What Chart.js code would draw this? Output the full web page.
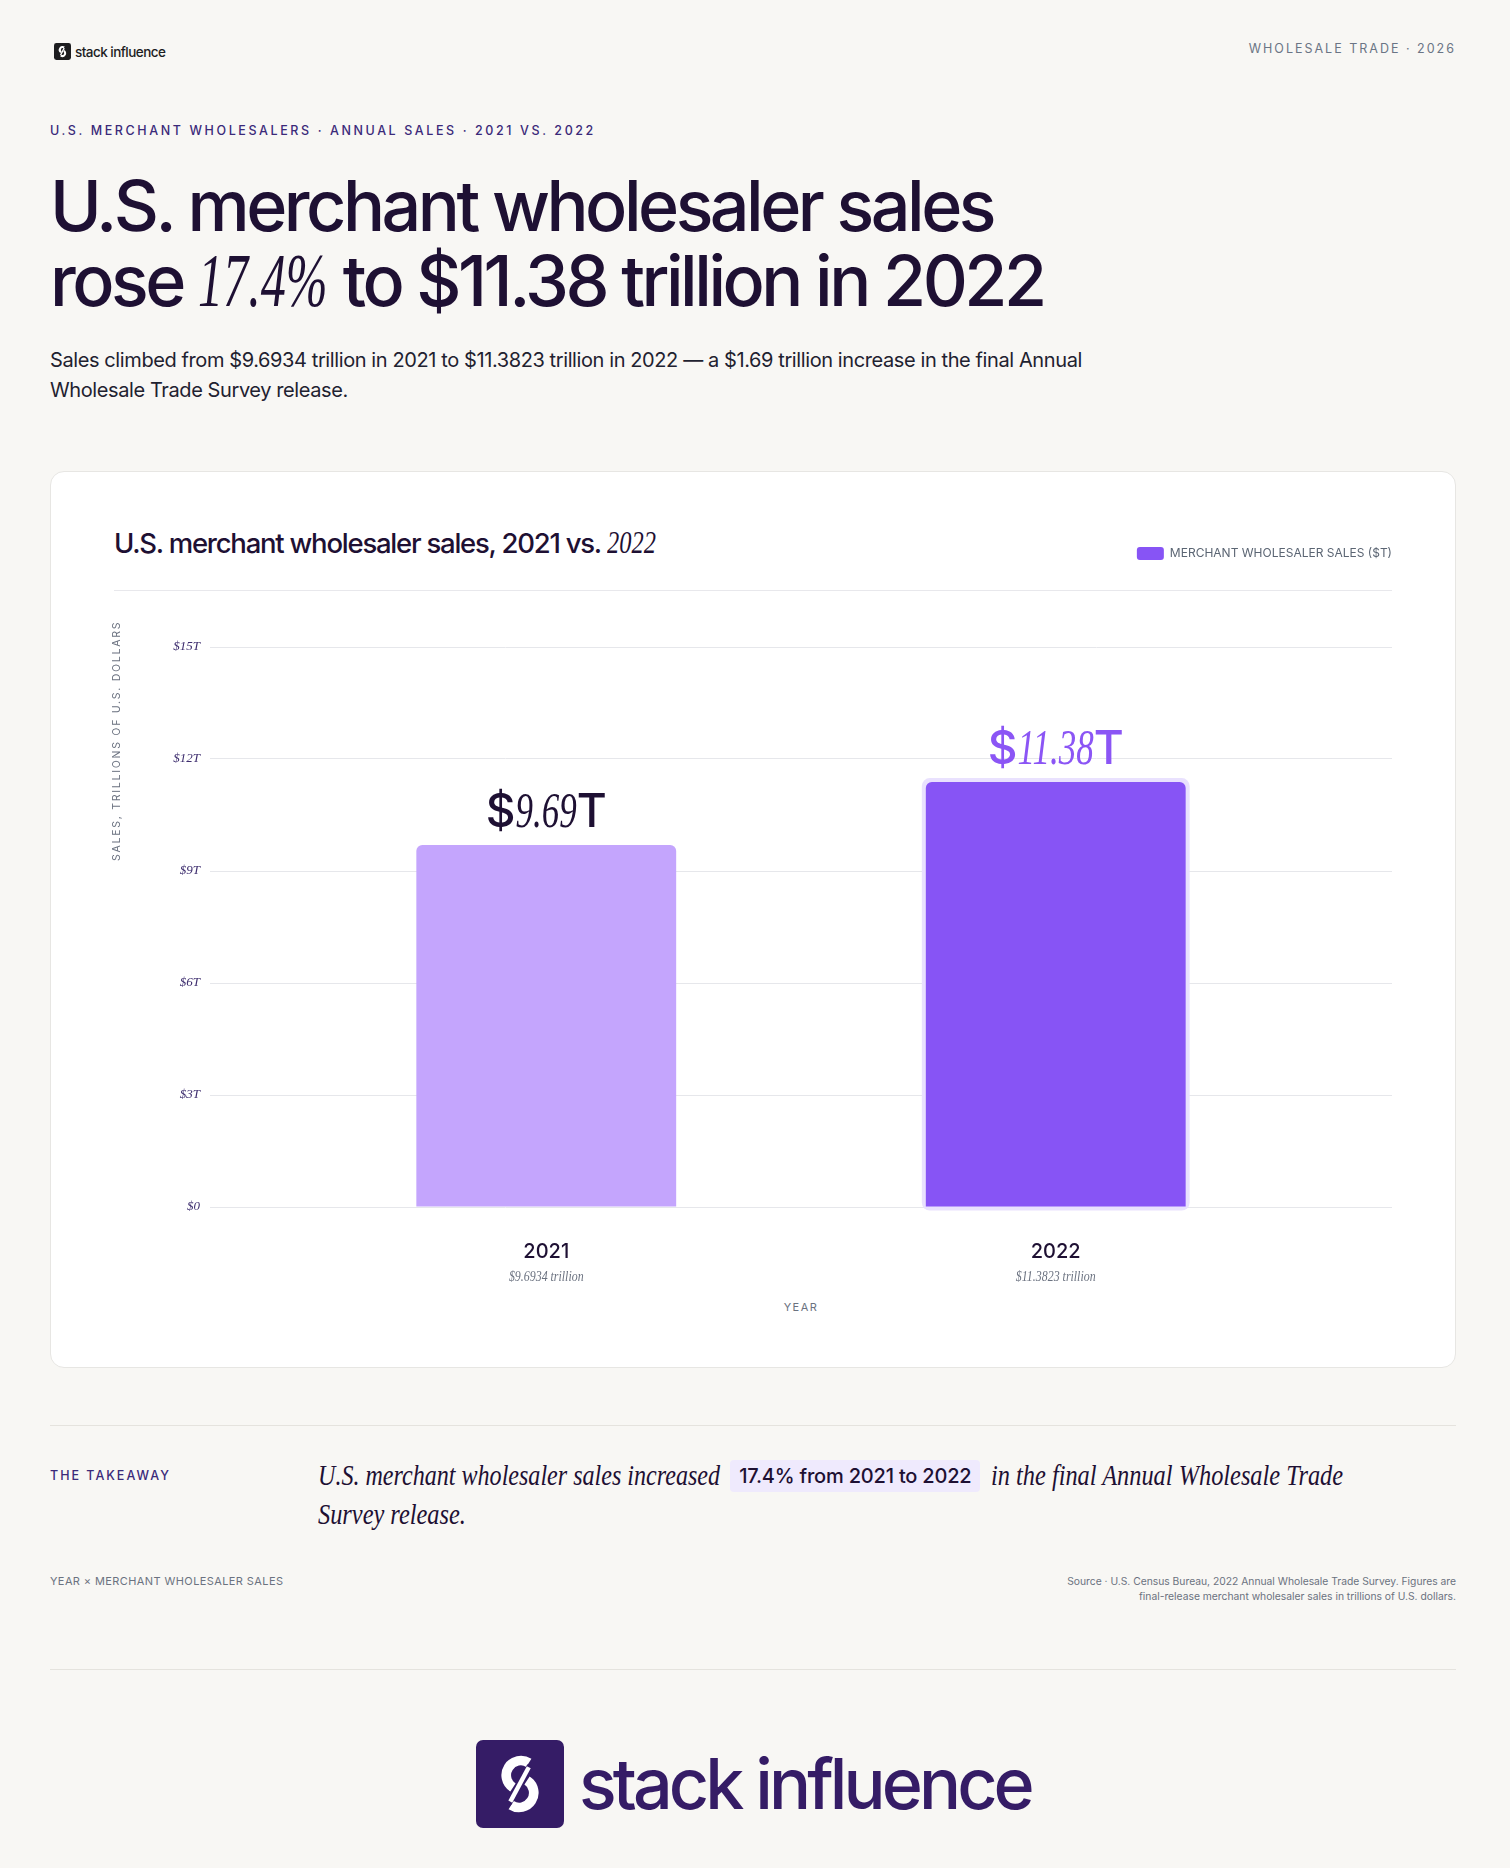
<!DOCTYPE html>
<html>
<head>
<meta charset="utf-8">
<script src="https://cdn.jsdelivr.net/npm/chart.js@4.4.1/dist/chart.umd.min.js"></script>
<style>
  html, body { margin: 0; padding: 0; }
  body {
    width: 1510px; height: 1868px; position: relative; overflow: hidden;
    background: #f8f7f4; font-family: Inter, "Noto Sans", sans-serif; color: #1e1033;
  }
  .abs { position: absolute; }
  .serif { font-family: "Liberation Serif", "DejaVu Serif", serif; font-style: italic; font-weight: 400; }
  .cond { display: inline-block; transform-origin: 0 50%; }
  .toplogo { left: 54px; top: 43px; display: flex; align-items: center; }
  .toplogo span { margin-left: 4px; font-size: 13.5px; font-weight: 500; letter-spacing: -0.04em; color: #1d1d1f; }
  .kicker { right: 54px; top: 41px; font-size: 12.5px; line-height: 15px; letter-spacing: 2px; color: #6b7585; }
  .eyebrow { left: 50px; top: 123px; font-size: 12.5px; line-height: 15px; letter-spacing: 2.6px; color: #3b2a7a; font-weight: 500; }
  h1 { margin: 0; left: 50px; top: 168px; font-size: 70px; line-height: 75px; font-weight: 500; letter-spacing: -0.05em; color: #1e1033; white-space: nowrap; }
  h1 .serif { font-size: 76px; letter-spacing: 0; }
  .lede { left: 50px; top: 345px; width: 1080px; font-size: 20px; line-height: 30px; letter-spacing: -0.02em; color: #1f2230; }
  .card { left: 50px; top: 471px; width: 1404px; height: 895px; background: #fff; border: 1px solid #e7e6e3; border-radius: 14px; }
  .ctitle { left: 114px; top: 526px; font-size: 27.5px; line-height: 34px; font-weight: 500; letter-spacing: -0.045em; color: #1e1033; white-space: nowrap; }
  .ctitle .serif { font-size: 31px; letter-spacing: 0; }
  .rule { left: 114px; top: 590px; width: 1278px; height: 1px; background: #e8e8ec; }
  .ytitle { left: 110px; top: 620px; height: 242px; writing-mode: vertical-rl; transform: rotate(180deg);
    font-size: 10.5px; letter-spacing: 1.75px; color: #6b7280; text-align: center; }
  .xtitle { left: 701px; width: 200px; top: 1300px; text-align: center; font-size: 11px; letter-spacing: 1.5px; color: #6b7280; }
  #wrap { left: 114px; top: 530px; width: 1278px; height: 757px; }
  .hr { left: 50px; width: 1406px; height: 1px; background: #e5e3de; }
  .tk-label { left: 50px; top: 1468px; font-size: 12.5px; line-height: 16px; letter-spacing: 2px; color: #3b2a7a; font-weight: 500; }
  .tk-text { left: 318px; top: 1456px; width: 1140px; font-size: 29px; line-height: 38px; color: #1e1033; white-space: nowrap; }
  .pill { font-family: Inter, sans-serif; font-style: normal; font-size: 20px; font-weight: 500; letter-spacing: -0.01em;
    background: #efeafd; border-radius: 4px; padding: 4px 9px; margin: 0 2px; vertical-align: 2px; }
  .foot-l { left: 50px; top: 1574px; font-size: 11px; line-height: 15px; letter-spacing: 0.4px; color: #6b7280; }
  .foot-r { right: 54px; top: 1574px; font-size: 10.3px; line-height: 15px; color: #6b7280; text-align: right; }
  .biglogo { left: 476px; top: 1740px; display: flex; align-items: center; }
  .biglogo span { margin-left: 15px; font-size: 70px; line-height: 72px; font-weight: 500; letter-spacing: -0.056em; color: #351c66; }
</style>
</head>
<body>

<div class="abs toplogo">
  <svg width="17" height="17" viewBox="0 0 100 100">
    <rect width="100" height="100" rx="14" fill="#1d1d1f"/>
    <path d="M60 26 A16 16 0 0 0 42 54" stroke="#fff" stroke-width="12" fill="none"/>
    <path d="M40 74 A16 16 0 0 0 58 46" stroke="#fff" stroke-width="12" fill="none"/>
    <path d="M60 30 L38 72" stroke="#fff" stroke-width="8"/>
  </svg>
  <span>stack influence</span>
</div>
<div class="abs kicker">WHOLESALE TRADE · 2026</div>

<div class="abs eyebrow">U.S. MERCHANT WHOLESALERS · ANNUAL SALES · 2021 VS. 2022</div>
<h1 class="abs">U.S. merchant wholesaler sales<br>rose <span class="serif cond" data-k="0.66">17.4%</span> to $11.38 trillion in 2022</h1>
<div class="abs lede">Sales climbed from $9.6934 trillion in 2021 to $11.3823 trillion in 2022 — a $1.69 trillion increase in the final Annual Wholesale Trade Survey release.</div>

<div class="abs card"></div>
<div class="abs ctitle">U.S. merchant wholesaler sales, 2021 vs. <span class="serif cond" data-k="0.79">2022</span></div>
<div class="abs" id="wrap"><canvas id="salesChart"></canvas></div>
<div class="abs rule"></div>
<div class="abs ytitle">SALES, TRILLIONS OF U.S. DOLLARS</div>
<div class="abs xtitle">YEAR</div>

<div class="abs hr" style="top:1425px"></div>
<div class="abs tk-label">THE TAKEAWAY</div>
<div class="abs tk-text"><span class="serif cond" data-k="0.83">U.S. merchant wholesaler sales increased</span> <span class="pill">17.4% from 2021 to 2022</span> <span class="serif cond" data-k="0.84">in the final Annual Wholesale Trade</span><br><span class="serif cond" data-k="0.84">Survey release.</span></div>
<div class="abs foot-l">YEAR × MERCHANT WHOLESALER SALES</div>
<div class="abs foot-r">Source · U.S. Census Bureau, 2022 Annual Wholesale Trade Survey. Figures are<br>final-release merchant wholesaler sales in trillions of U.S. dollars.</div>

<div class="abs hr" style="top:1669px"></div>
<div class="abs biglogo">
  <svg width="88" height="88" viewBox="0 0 100 100">
    <rect width="100" height="100" rx="8" fill="#351c66"/>
    <path d="M60 26 A16 16 0 0 0 42 54" stroke="#fff" stroke-width="11" fill="none"/>
    <path d="M40 74 A16 16 0 0 0 58 46" stroke="#fff" stroke-width="11" fill="none"/>
    <path d="M61 29 L37 73" stroke="#351c66" stroke-width="6"/>
    <path d="M60 31 L39 70" stroke="#fff" stroke-width="5"/>
  </svg>
  <span>stack influence</span>
</div>

<script>
// values
const years = [2021, 2022];
const salesTrillions = [9.6934, 11.3823];
const valueLabels = ['9.69', '11.38'];
const subLabels = ['$9.6934 trillion', '$11.3823 trillion'];
const yTicks = [0, 3, 6, 9, 12, 15];

const barColors = ['#c4a5fd', '#8754f5'];
const labelColors = ['#1e1033', '#8b55f5'];
const serif = '"Liberation Serif", "DejaVu Serif", serif';

// squeeze the italic serif bits so they read like a condensed display face
document.querySelectorAll('.cond').forEach(el => {
  const k = parseFloat(el.dataset.k);
  const w = el.getBoundingClientRect().width;
  el.style.transform = 'scaleX(' + k + ')';
  el.style.marginRight = (-w * (1 - k)) + 'px';
});

// push the plot down below the legend row
const legendSpace = {
  id: 'legendSpace',
  beforeInit(chart) {
    const fit = chart.legend.fit;
    chart.legend.fit = function () {
      fit.call(this);
      this.height = 100;
    };
  }
};

// soft halo around the latest year
const halo = {
  id: 'halo',
  beforeDatasetsDraw(chart) {
    const bar = chart.getDatasetMeta(0).data[1];
    const ctx = chart.ctx;
    const w = bar.width;
    ctx.save();
    ctx.fillStyle = '#e9e1fe';
    ctx.beginPath();
    ctx.roundRect(bar.x - w / 2 - 4, bar.y - 4, w + 8, bar.base - bar.y + 8, 8);
    ctx.fill();
    ctx.restore();
  }
};

// big value labels above bars + italic sub labels under the year ticks
const labels = {
  id: 'labels',
  afterDatasetsDraw(chart) {
    const ctx = chart.ctx;
    const k = 0.7;
    chart.getDatasetMeta(0).data.forEach((bar, i) => {
      const parts = [
        { t: '$', f: '500 46px Inter', s: 1 },
        { t: valueLabels[i], f: 'italic 50px ' + serif, s: k },
        { t: 'T', f: '500 46px Inter', s: 1 }
      ];
      ctx.save();
      let total = 0;
      parts.forEach(p => { ctx.font = p.f; p.w = ctx.measureText(p.t).width * p.s; total += p.w; });
      let x = bar.x - total / 2;
      const y = bar.y - 18;
      ctx.fillStyle = labelColors[i];
      ctx.textBaseline = 'alphabetic';
      parts.forEach(p => {
        ctx.font = p.f;
        ctx.save();
        ctx.translate(x, y);
        ctx.scale(p.s, 1);
        ctx.fillText(p.t, 0, 0);
        ctx.restore();
        x += p.w;
      });
      ctx.restore();
    });
  },
  afterDraw(chart) {
    const ctx = chart.ctx;
    const xs = chart.scales.x;
    ctx.save();
    ctx.font = 'italic 14px ' + serif;
    ctx.fillStyle = '#6b7280';
    ctx.textAlign = 'center';
    years.forEach((yr, i) => {
      ctx.save();
      ctx.translate(xs.getPixelForValue(yr), chart.chartArea.bottom + 70);
      ctx.scale(0.85, 1);
      ctx.fillText(subLabels[i], 0, 0);
      ctx.restore();
    });
    ctx.restore();
  }
};

new Chart(document.getElementById('salesChart'), {
  type: 'bar',
  data: {
    datasets: [{
      label: 'MERCHANT WHOLESALER SALES ($T)',
      data: years.map((yr, i) => ({ x: yr, y: salesTrillions[i] })),
      backgroundColor: barColors,
      borderRadius: 6,
      borderWidth: 0,
      categoryPercentage: 1,
      barPercentage: 0.51
    }]
  },
  options: {
    responsive: true,
    maintainAspectRatio: false,
    animation: false,
    layout: { padding: { top: 17, right: 0, left: 0, bottom: 0 } },
    plugins: {
      legend: {
        position: 'top',
        align: 'end',
        labels: {
          boxWidth: 27,
          boxHeight: 13,
          useBorderRadius: true,
          borderRadius: 3,
          padding: 0,
          color: '#5b6573',
          font: { family: 'Inter', size: 12 },
          generateLabels: chart => Chart.defaults.plugins.legend.labels.generateLabels(chart)
            .map(l => Object.assign(l, { fillStyle: barColors[1], strokeStyle: barColors[1], lineWidth: 0 }))
        }
      },
      tooltip: { enabled: false }
    },
    scales: {
      x: {
        type: 'linear',
        offset: false,
        min: 2020.34,
        max: 2022.66,
        afterBuildTicks: s => { s.ticks = years.map(v => ({ value: v })); },
        afterFit: s => { s.height = 80; },
        grid: { display: false },
        border: { display: false },
        ticks: {
          callback: v => String(v),
          color: '#1e1033',
          padding: 25,
          font: { family: 'Inter', size: 20, weight: 500 }
        }
      },
      y: {
        min: 0,
        max: 15,
        afterBuildTicks: s => { s.ticks = yTicks.map(v => ({ value: v })); },
        afterFit: s => { s.width = 96; },
        border: { display: false },
        grid: { color: '#e6e7eb', drawTicks: false },
        ticks: {
          callback: v => v === 0 ? '$0' : '$' + v + 'T',
          color: '#3d2d6e',
          padding: 10,
          font: { family: serif, style: 'italic', size: 13 }
        }
      }
    }
  },
  plugins: [legendSpace, halo, labels]
});
</script>
</body>
</html>
